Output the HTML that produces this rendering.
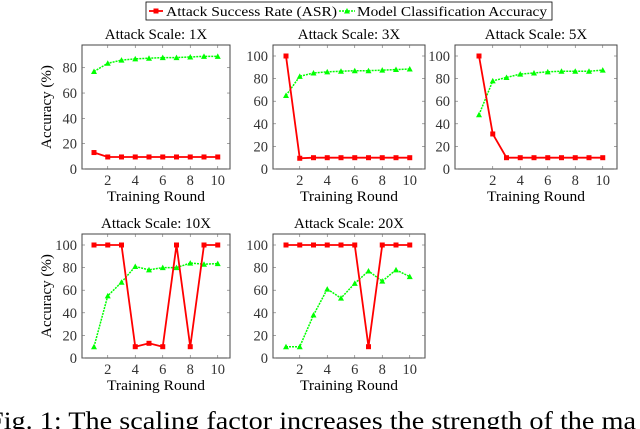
<!DOCTYPE html>
<html><head><meta charset="utf-8"><style>
html,body{margin:0;padding:0;background:#fff;}
svg{display:block;font-family:"Liberation Serif",serif;}
</style></head><body>
<svg id="chart" width="640" height="429" viewBox="0 0 640 429" xmlns="http://www.w3.org/2000/svg">
<g>
<rect x="146" y="2" width="406" height="18" fill="#fff" stroke="#000" stroke-width="0.8"/>
<line x1="149" y1="11" x2="163" y2="11" stroke="#f00" stroke-width="1.8"/>
<rect x="153.5" y="8.5" width="5" height="5" fill="#f00"/>
<text x="166" y="16" font-size="14" textLength="171" lengthAdjust="spacingAndGlyphs">Attack Success Rate (ASR)</text>
<line x1="339" y1="11" x2="355" y2="11" stroke="#0f0" stroke-width="1.5" stroke-dasharray="2,1"/>
<polygon points="347,8 350,13.5 344,13.5" fill="#0f0"/>
<text x="357" y="16" font-size="14" textLength="190" lengthAdjust="spacingAndGlyphs">Model Classification Accuracy</text>
</g>
<text x="-12" y="429" font-size="25" textLength="648" lengthAdjust="spacingAndGlyphs">Fig. 1: The scaling factor increases the strength of the ma</text>
</svg>
<script>
const rounds=[1,2,3,4,5,6,7,8,9,10];
const titles=["Attack Scale: 1X","Attack Scale: 3X","Attack Scale: 5X","Attack Scale: 10X","Attack Scale: 20X"];
const asr1=[13,9.5,9.5,9.5,9.5,9.5,9.5,9.5,9.5,9.5];
const acc1=[77,83.5,86,87,87.5,88,88,88.5,89,89];
const asr3=[100,9.5,10,10,10,10,10,10,10,10];
const acc3=[65,82,85,86,86.5,87,87,87.5,88,88.5];
const asr5=[100,31,10,10,10,10,10,10,10,10];
const acc5=[48,78,81,84,85,86,86.5,86.5,86.5,87.5];
const asr10=[100,100,100,10,13,10,100,10,100,100];
const acc10=[10,55,67,81,78,80,80,84,83,83.5];
const asr20=[100,100,100,100,100,100,10,100,100,100];
const acc20=[10,10,38,61,53,66,77,68,78,72];
const yTicks1=[0,20,40,60,80];
const yTicks=[0,20,40,60,80,100];
const xTicks=[2,4,6,8,10];
const NS="http://www.w3.org/2000/svg";
const svg=document.getElementById('chart');
function mk(tag,attrs,parent){const e=document.createElementNS(NS,tag);for(const k in attrs)e.setAttribute(k,attrs[k]);(parent||svg).appendChild(e);return e;}
const panels=[
 {L:82,R:230,T:45,B:169,x1:94,dx:13.75,ppu:1.266,asr:asr1,acc:acc1,yt:yTicks1,ylab:true},
 {L:273,R:425,T:45,B:169,x1:286,dx:13.75,ppu:1.13,asr:asr3,acc:acc3,yt:yTicks,ylab:false},
 {L:455,R:617,T:45,B:169,x1:479,dx:13.75,ppu:1.13,asr:asr5,acc:acc5,yt:yTicks,ylab:false},
 {L:82,R:230,T:234,B:358,x1:94,dx:13.75,ppu:1.13,asr:asr10,acc:acc10,yt:yTicks,ylab:true},
 {L:273,R:425,T:234,B:358,x1:286,dx:13.75,ppu:1.13,asr:asr20,acc:acc20,yt:yTicks,ylab:false}];
panels.forEach((p,i)=>{
 const g=mk('g',{});
 
 
 const X=v=>p.x1+(v-1)*p.dx, Y=v=>p.B-v*p.ppu;
 const t=mk('text',{x:(p.L+p.R)/2,y:p.T-6,'font-size':15,'text-anchor':'middle'},g);t.textContent=titles[i];
 
 
 mk('rect',{x:p.L,y:p.T,width:p.R-p.L,height:p.B-p.T,fill:'none',stroke:'#444','stroke-width':1},g);
 p.yt.forEach(v=>{const y=Y(v);
  mk('line',{x1:p.L,y1:y,x2:p.L+3,y2:y,stroke:'#666','stroke-width':0.6},g);
  mk('line',{x1:p.R,y1:y,x2:p.R-3,y2:y,stroke:'#666','stroke-width':0.6},g);
  const tt=mk('text',{x:p.L-5,y:y+5,'font-size':14.5,'text-anchor':'end',fill:'#333'},g);tt.textContent=v;
  
  });
 xTicks.forEach(v=>{const x=X(v);
  mk('line',{x1:x,y1:p.B,x2:x,y2:p.B-3,stroke:'#666','stroke-width':0.6},g);
  mk('line',{x1:x,y1:p.T,x2:x,y2:p.T+3,stroke:'#666','stroke-width':0.6},g);
  const tt=mk('text',{x:x,y:p.B+16,'font-size':14.5,'text-anchor':'middle',fill:'#333'},g);tt.textContent=v;
  
  });
 const xl=mk('text',{x:(p.L+p.R)/2,y:p.B+32,'font-size':15,'text-anchor':'middle',textLength:98,lengthAdjust:'spacingAndGlyphs'},g);xl.textContent='Training Round';
 
 
 if(p.ylab){const cx=p.L-31,cy=(p.T+p.B)/2;
  const yl=mk('text',{x:cx,y:cy,'font-size':15,'text-anchor':'middle',transform:`rotate(-90 ${cx} ${cy})`},g);yl.textContent='Accuracy (%)';
  
  }
 const ap=rounds.map((r,k)=>X(r)+','+Y(p.acc[k])).join(' ');
 const al=mk('polyline',{points:ap,fill:'none',stroke:'#0f0','stroke-width':1.5,'stroke-dasharray':'2,1'},g);
 
 
 rounds.forEach((r,k)=>{const x=X(r),y=Y(p.acc[k]);
  const m=mk('polygon',{points:`${x},${y-3} ${x+3},${y+2.5} ${x-3},${y+2.5}`,fill:'#0f0'},g);
  
  });
 const sp=rounds.map((r,k)=>X(r)+','+Y(p.asr[k])).join(' ');
 const sl=mk('polyline',{points:sp,fill:'none',stroke:'#f00','stroke-width':1.8},g);
 
 
 rounds.forEach((r,k)=>{const x=X(r),y=Y(p.asr[k]);
  const m=mk('rect',{x:x-2.5,y:y-2.5,width:5,height:5,fill:'#f00'},g);
  
  });
});
</script>
</body></html>
